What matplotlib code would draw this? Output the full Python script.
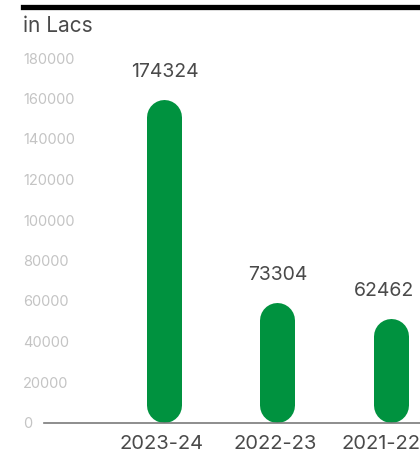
import matplotlib
matplotlib.use("Agg")
import matplotlib.pyplot as plt
import matplotlib.transforms as mtransforms
from matplotlib.lines import Line2D

# data
years = ["2023-24", "2022-23", "2021-22"]
values = [174324, 73304, 62462]            # printed labels
bar_heights = [159500, 59400, 51500]       # drawn bar tops, as seen against the axis
yticks = [0, 20000, 40000, 60000, 80000, 100000, 120000, 140000, 160000, 180000]

green = "#00923f"
dark = "#4a4a4a"
light = "#c4c4c4"

plt.rcParams["font.family"] = ["Inter", "DejaVu Sans"]

fig = plt.figure(figsize=(4.2, 4.55), dpi=100)
ax = fig.add_axes([44 / 420, 32.5 / 455, 376 / 420, (422.5 - 58) / 455])
ax.set_xlim(-1.066, 2.261)
ax.set_ylim(0, 180000)

# capsule bars drawn as thick lines with round caps
bar_px = 35
px_per_y = (422.5 - 58) / 180000
r = (bar_px / 2) / px_per_y   # cap radius in data units
# last labels sit a little left so they stay inside the frame
nudge = [0, 0, -5]
for i, h in enumerate(bar_heights):
    ax.plot([i, i], [r, h - r], color=green, linewidth=bar_px * 0.72,
            solid_capstyle="round", clip_on=False)
    ax.annotate(str(values[i]), (i, h), xytext=(nudge[i], 13), textcoords="offset points",
                ha="center", va="bottom", fontsize=14, color=dark)

for s in ["top", "right", "left"]:
    ax.spines[s].set_visible(False)
ax.spines["bottom"].set_color("#7a7a7a")
ax.spines["bottom"].set_linewidth(1.2)
ax.spines["bottom"].set_zorder(3)

ax.set_xticks(range(len(years)))
ax.set_xticklabels(years, fontsize=14.5, color=dark)
ax.tick_params(axis="x", length=0, pad=9)
for lab, dx in zip(ax.get_xticklabels(), nudge):
    lab.set_transform(lab.get_transform() +
                      mtransforms.ScaledTranslation((dx - 2) / 72, 0, fig.dpi_scale_trans))

ax.set_yticks(yticks)
ax.set_yticklabels([str(t) for t in yticks], fontsize=10.5, color=light, ha="left")
ax.tick_params(axis="y", length=0, pad=15)

fig.text(23 / 420, 1 - 26 / 455, "in Lacs", fontsize=15, color=dark, va="center", ha="left")
fig.add_artist(Line2D([23 / 420, 1], [1 - 6.8 / 455] * 2, color="black", linewidth=3.8,
                      transform=fig.transFigure))

fig.savefig("out.png", dpi=100)
